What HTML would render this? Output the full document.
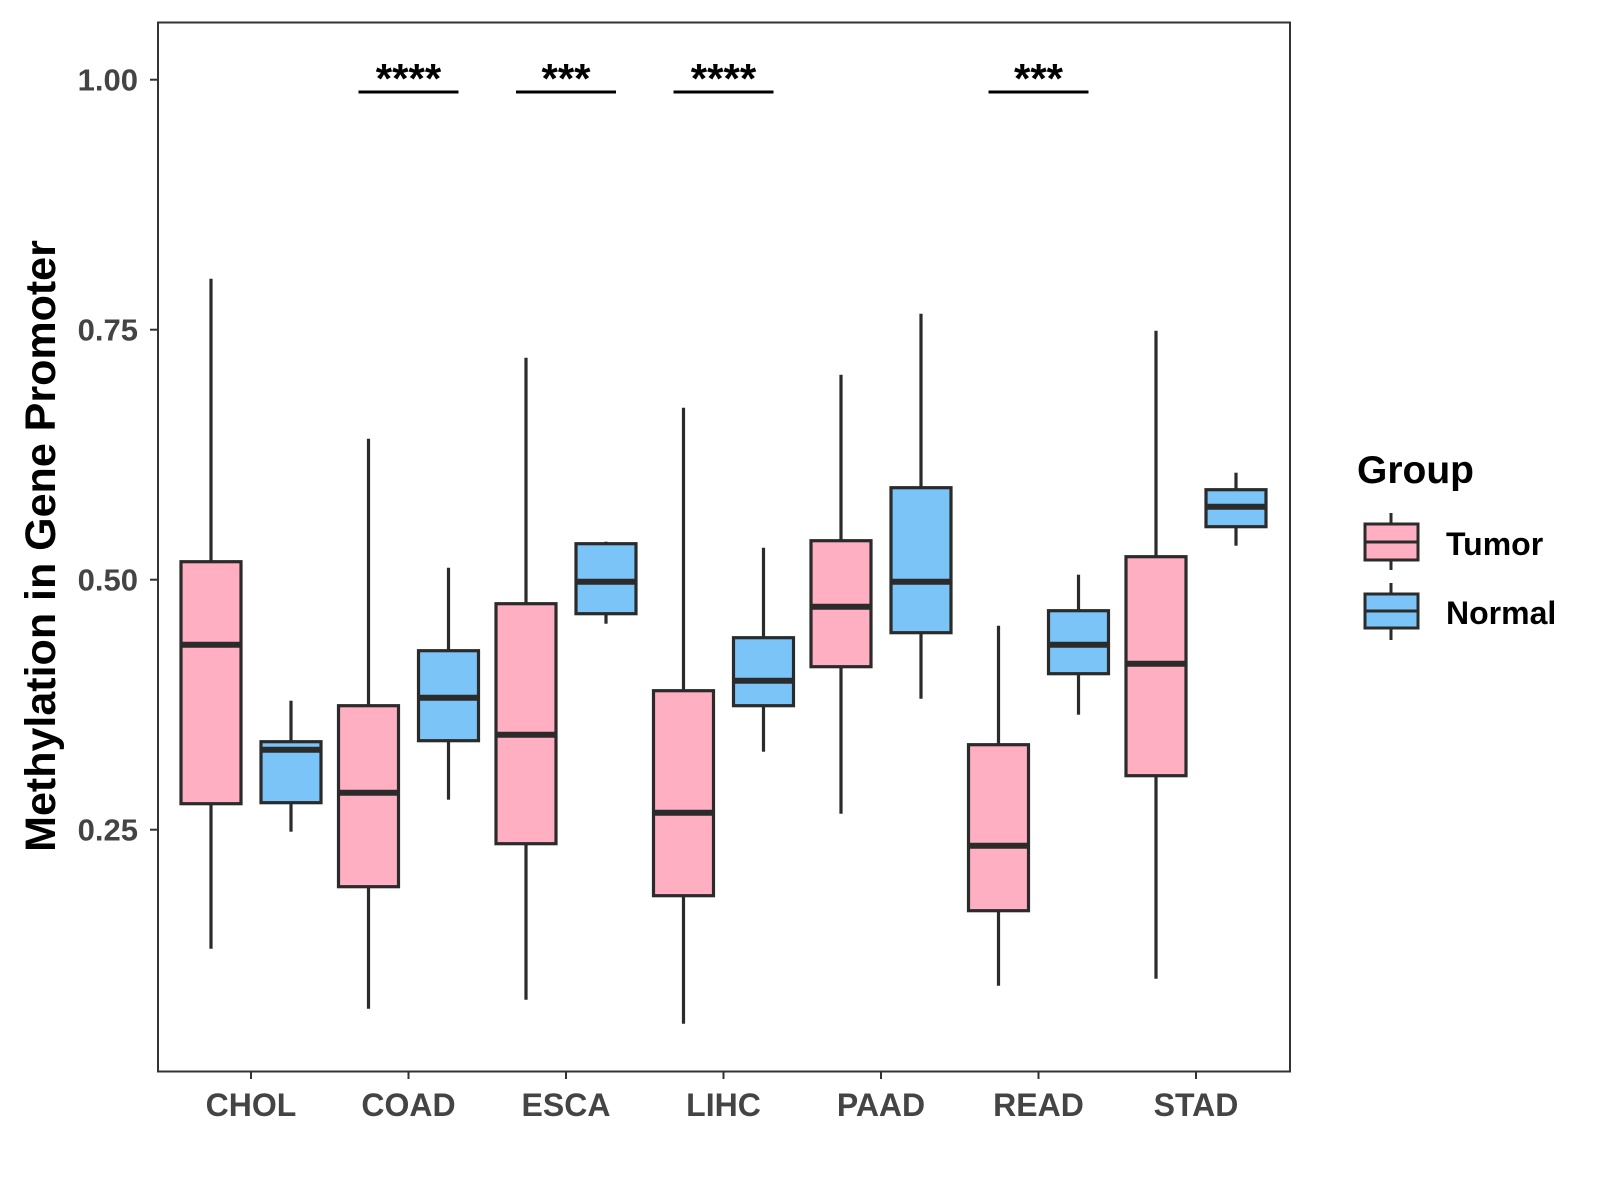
<!DOCTYPE html>
<html><head><meta charset="utf-8"><style>
html,body{margin:0;padding:0;background:#fff}
svg{display:block;font-family:"Liberation Sans",Arial,sans-serif;font-weight:bold}
</style></head><body>
<svg id="chart" width="1600" height="1200" viewBox="0 0 1600 1200">
<rect x="158" y="22.5" width="1132" height="1049" fill="none" stroke="#333" stroke-width="2"/>
<g id="yaxis"></g>
<g id="xaxis"></g>
<g id="boxes"></g>
<g id="sig"></g>
<text x="55" y="546" transform="rotate(-90 55 546)" text-anchor="middle" font-size="43" fill="#000">Methylation in Gene Promoter</text>
<g>
<text x="1357" y="483" font-size="39" fill="#000">Group</text>
<g>
<line x1="1391" y1="513" x2="1391" y2="570" stroke="#2b2b2b" stroke-width="3"/>
<rect x="1365" y="524" width="53" height="36" fill="#FFAFC1" stroke="#2b2b2b" stroke-width="3"/>
<line x1="1365" y1="542" x2="1418" y2="542" stroke="#2b2b2b" stroke-width="3"/>
<text x="1446" y="555" font-size="32" fill="#000">Tumor</text></g>
<g>
<line x1="1391" y1="583" x2="1391" y2="640" stroke="#2b2b2b" stroke-width="3"/>
<rect x="1365" y="594" width="53" height="34" fill="#7AC4F8" stroke="#2b2b2b" stroke-width="3"/>
<line x1="1365" y1="611" x2="1418" y2="611" stroke="#2b2b2b" stroke-width="3"/>
<text x="1446" y="624" font-size="32" fill="#000">Normal</text></g>
</g>
</svg>
<script>
const categories=["CHOL","COAD","ESCA","LIHC","PAAD","READ","STAD"];
// [lowWhisker, q1, median, q3, highWhisker]
const tumorStats=[[0.131,0.276,0.435,0.518,0.801],[0.071,0.193,0.287,0.374,0.641],[0.080,0.236,0.345,0.476,0.722],[0.056,0.184,0.267,0.389,0.672],[0.266,0.413,0.473,0.539,0.705],[0.094,0.169,0.234,0.335,0.454],[0.101,0.304,0.416,0.523,0.749]];
const normalStats=[[0.248,0.277,0.330,0.338,0.379],[0.280,0.339,0.382,0.429,0.512],[0.456,0.466,0.498,0.536,0.538],[0.328,0.374,0.399,0.442,0.532],[0.381,0.447,0.498,0.592,0.766],[0.365,0.406,0.435,0.469,0.505],[0.534,0.553,0.573,0.590,0.607]];
const yTicks=[0.25,0.5,0.75,1.0];
const yTickLabels=["0.25","0.50","0.75","1.00"];
const sigCats=["COAD","ESCA","LIHC","READ"];
const sigLabels=["****","***","****","***"];
const NS="http://www.w3.org/2000/svg";
function y(v){return 1079.7-1000*v;}
function x(i){return 251+157.5*i;}
function mk(tag,attrs,parent){const e=document.createElementNS(NS,tag);for(const k in attrs)e.setAttribute(k,attrs[k]);parent.appendChild(e);return e;}
const ya=document.getElementById('yaxis'),xa=document.getElementById('xaxis'),bx=document.getElementById('boxes'),sg=document.getElementById('sig');
yTicks.forEach((t,i)=>{
 const l=mk('line',{x1:150,x2:158,y1:y(t),y2:y(t),stroke:'#333','stroke-width':2},ya);
 
 
 const tx=mk('text',{x:138,y:y(t)+11,'text-anchor':'end','font-size':31,fill:'#444'},ya);
 tx.textContent=yTickLabels[i];
 
 
});
categories.forEach((c,i)=>{
 const l=mk('line',{x1:x(i),x2:x(i),y1:1071,y2:1079,stroke:'#333','stroke-width':2},xa);
 
 
 const tx=mk('text',{x:x(i),y:1116,'text-anchor':'middle','font-size':32,fill:'#444'},xa);
 tx.textContent=c;
 
 
});
function drawBox(s,cx,fill,name){
 const g=mk('g',{},bx);
 
 
 const hw=30,st={stroke:'#2b2b2b','stroke-width':3.2};
 mk('line',Object.assign({x1:cx,x2:cx,y1:y(s[4]),y2:y(s[3])},st),g);
 mk('line',Object.assign({x1:cx,x2:cx,y1:y(s[1]),y2:y(s[0])},st),g);
 mk('rect',Object.assign({x:cx-hw,y:y(s[3]),width:2*hw,height:y(s[1])-y(s[3]),fill:fill},st),g);
 mk('line',{x1:cx-hw,x2:cx+hw,y1:y(s[2]),y2:y(s[2]),stroke:'#2b2b2b','stroke-width':6},g);
}
categories.forEach((c,i)=>{
 drawBox(tumorStats[i],x(i)-40,'#FFAFC1','box-tumor-'+c.toLowerCase());
 drawBox(normalStats[i],x(i)+40,'#7AC4F8','box-normal-'+c.toLowerCase());
});
sigCats.forEach((c,k)=>{
 const i=categories.indexOf(c);
 const l=mk('line',{x1:x(i)-50,x2:x(i)+50,y1:92,y2:92,stroke:'#000','stroke-width':3},sg);
 
 
 const t=mk('text',{x:x(i),y:93,'text-anchor':'middle','font-size':42,fill:'#000'},sg);
 t.textContent=sigLabels[k];
 
 
});
</script>
</body></html>
